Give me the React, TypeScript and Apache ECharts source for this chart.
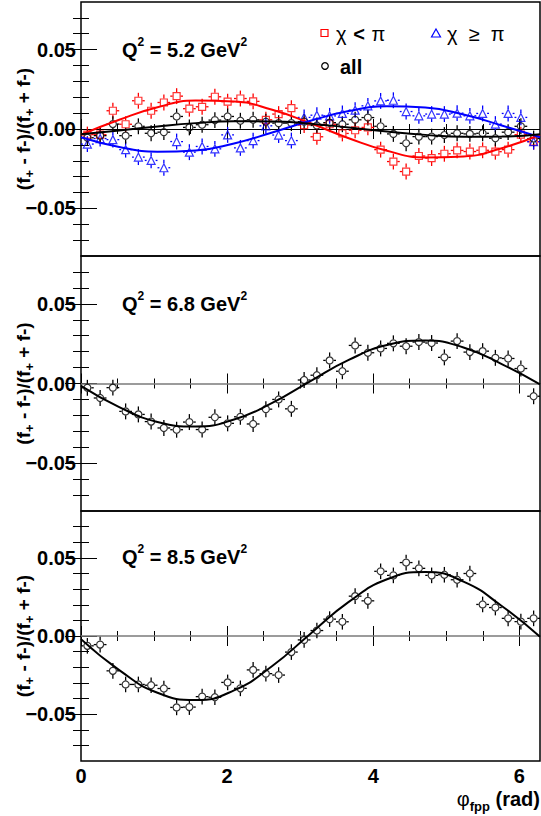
import React, { useEffect, useRef } from 'react';
import * as echarts from 'echarts';

// ---------- data ----------
const TWO_PI = 2 * Math.PI;
const N_BINS = 36;
const BIN_WIDTH = TWO_PI / N_BINS;
const phiBinCenters = Array.from({ length: N_BINS }, (_, i) => (i + 0.5) * BIN_WIDTH);
const fitKnotPhi = Array.from({ length: 13 }, (_, k) => (k * Math.PI) / 6);

const q2Values = ['5.2', '6.8', '8.5'];
const xTickLabels = [0, 2, 4, 6];
const xMinorTicks = [0.5, 1, 1.5, 2.5, 3, 3.5, 4.5, 5, 5.5];
const yTickLabels = [-0.05, 0, 0.05];
const yMinorTicks = [-0.07, -0.06, -0.04, -0.03, -0.02, -0.01, 0.01, 0.02, 0.03, 0.04, 0.06, 0.07];
const ERR_Y = 0.005;

// Q^2 = 5.2 GeV^2
const asymChiLow52 = [
  -0.0035, -0.0036, 0.0115, 0.003, 0.0178, 0.0115, 0.0167, 0.0207, 0.0128, 0.014, 0.0203, 0.0172,
  0.0192, 0.0174, 0.0058, 0.0094, 0.0131, 0.0025, -0.0049, 0.003, -0.0028, -0.0008, 0.001, -0.013,
  -0.0205, -0.0268, -0.017, -0.0183, -0.0156, -0.0135, -0.0142, -0.0134, -0.0143, -0.013, -0.0036, -0.008,
];
const asymChiHigh52 = [
  -0.0095, -0.006, -0.0067, -0.013, -0.0177, -0.0198, -0.0244, -0.0079, -0.0146, -0.011, -0.0125, -0.0037,
  -0.0119, -0.0073, 0.002, -0.0038, -0.0073, 0.0073, 0.0087, 0.0083, 0.0098, 0.0119, 0.0146, 0.0177,
  0.0181, 0.011, 0.0083, 0.0094, 0.0094, 0.01, 0.0083, 0.0098, 0.0031, 0.0098, 0.0073, -0.008,
];
const asymAll52 = [
  -0.0055, -0.0042, 0.0031, -0.0042, 0.0017, -0.0027, -0.002, 0.0079, 0.001, 0.0027, 0.0056, 0.0079,
  0.0052, 0.0058, 0.0046, 0.0037, 0.0037, 0.0046, 0.0022, 0.004, 0.003, 0.0058, 0.0072, 0.0017,
  -0.0031, -0.009, -0.0048, -0.0048, -0.0038, -0.0027, -0.0031, -0.0027, -0.0058, -0.002, 0.0017, -0.006,
];
// Q^2 = 6.8 GeV^2
const asymAll68 = [
  -0.0027, -0.0091, -0.0026, -0.0175, -0.0194, -0.0239, -0.0279, -0.029, -0.0242, -0.0289, -0.0212, -0.025,
  -0.0209, -0.0254, -0.0161, -0.01, -0.0159, 0.0022, 0.0052, 0.0145, 0.0077, 0.0239, 0.0193, 0.022,
  0.0252, 0.0234, 0.026, 0.0254, 0.0164, 0.0266, 0.0197, 0.0203, 0.0161, 0.0157, 0.0094, -0.008,
];
// Q^2 = 8.5 GeV^2
const asymAll85 = [
  -0.0063, -0.0055, -0.0223, -0.031, -0.031, -0.0315, -0.0336, -0.0457, -0.0455, -0.0388, -0.0392, -0.0297,
  -0.0335, -0.0217, -0.0241, -0.025, -0.0103, -0.0025, 0.0035, 0.0108, 0.0091, 0.0255, 0.0225, 0.0414,
  0.0388, 0.047, 0.0433, 0.0388, 0.0392, 0.036, 0.04, 0.0202, 0.0182, 0.0113, 0.0092, 0.0113,
];

// fitted curves read at phi = k*pi/6, k = 0..12
const fitChiLow52 = [-0.0036, 0.0058, 0.0137, 0.0179, 0.0173, 0.0121, 0.0036, -0.0058, -0.0137, -0.0179, -0.0173, -0.0121, -0.0036];
const fitChiHigh52 = [-0.0052, -0.0113, -0.0143, -0.0135, -0.0091, -0.0022, 0.0052, 0.0113, 0.0143, 0.0135, 0.0091, 0.0022, -0.0052];
const fitAll52 = [-0.0033, -0.001, 0.0016, 0.0037, 0.0049, 0.0048, 0.0033, 0.001, -0.0016, -0.0037, -0.0049, -0.0048, -0.0033];
const fitAll68 = [-0.0015, -0.0148, -0.0241, -0.027, -0.0226, -0.0122, 0.0015, 0.0148, 0.0241, 0.027, 0.0226, 0.0122, -0.0005];
const fitAll85 = [-0.002, -0.0218, -0.0363, -0.041, -0.0348, -0.0192, 0.0015, 0.0218, 0.0363, 0.041, 0.0348, 0.0192, -0.0005];

// ---------- style ----------
const FONT = '"Liberation Sans", Arial, Helvetica, sans-serif';
const RED = '#ff0000';
const BLUE = '#0000ff';
const BLACK = '#000000';
const GRID_LEFT = 81;
const GRID_WIDTH = 459;
const panelBoxes = [
  { top: 2, height: 254, titleY: 50 },
  { top: 256, height: 255, titleY: 304 },
  { top: 511, height: 250, titleY: 557 },
];

type DataSet = { name: string; values: number[]; color: string; symbol: string; size: number; gap: number };
type FitSet = { name: string; values: number[]; color: string };

const panelData: { sets: DataSet[]; fits: FitSet[]; zeroColor: string; zeroWidth: number }[] = [
  {
    sets: [
      { name: 'χ < π', values: asymChiLow52, color: RED, symbol: 'rect', size: 7, gap: 4 },
      { name: 'χ ≥ π', values: asymChiHigh52, color: BLUE, symbol: 'triangle', size: 8, gap: 4.5 },
      { name: 'all', values: asymAll52, color: BLACK, symbol: 'circle', size: 7, gap: 4 },
    ],
    fits: [
      { name: 'fit χ < π', values: fitChiLow52, color: RED },
      { name: 'fit χ ≥ π', values: fitChiHigh52, color: BLUE },
      { name: 'fit all', values: fitAll52, color: BLACK },
    ],
    zeroColor: '#000',
    zeroWidth: 1,
  },
  {
    sets: [{ name: 'all 6.8', values: asymAll68, color: BLACK, symbol: 'circle', size: 7, gap: 4 }],
    fits: [{ name: 'fit 6.8', values: fitAll68, color: BLACK }],
    zeroColor: '#7a7a7a',
    zeroWidth: 1.5,
  },
  {
    sets: [{ name: 'all 8.5', values: asymAll85, color: BLACK, symbol: 'circle', size: 7, gap: 4 }],
    fits: [{ name: 'fit 8.5', values: fitAll85, color: BLACK }],
    zeroColor: '#7a7a7a',
    zeroWidth: 1.5,
  },
];

function errorBarRenderer(color: string, gap: number) {
  return (_params: any, api: any) => {
    const x = api.value(0);
    const y = api.value(1);
    const c = api.coord([x, y]);
    const top = api.coord([x, y + ERR_Y])[1];
    const bot = api.coord([x, y - ERR_Y])[1];
    const left = api.coord([x - BIN_WIDTH / 2, y])[0];
    const right = api.coord([x + BIN_WIDTH / 2, y])[0];
    const style = { stroke: color, lineWidth: 1.3 };
    const children: any[] = [];
    if (c[1] - gap > top) children.push({ type: 'line', shape: { x1: c[0], y1: top, x2: c[0], y2: c[1] - gap }, style });
    if (c[1] + gap < bot) children.push({ type: 'line', shape: { x1: c[0], y1: c[1] + gap, x2: c[0], y2: bot }, style });
    children.push({ type: 'line', shape: { x1: left, y1: c[1], x2: c[0] - gap, y2: c[1] }, style });
    children.push({ type: 'line', shape: { x1: c[0] + gap, y1: c[1], x2: right, y2: c[1] }, style });
    return { type: 'group', children };
  };
}

function yFmt(v: number) {
  if (Math.abs(v) < 1e-9) return '0.00';
  return (v < 0 ? '\u2212' : '') + Math.abs(v).toFixed(2);
}

function buildOption() {
  const grid: any[] = [];
  const xAxis: any[] = [];
  const yAxis: any[] = [];
  const series: any[] = [];
  const graphic: any[] = [];

  panelBoxes.forEach((box, g) => {
    grid.push({
      left: GRID_LEFT,
      width: GRID_WIDTH,
      top: box.top,
      height: box.height,
      containLabel: false,
      outerBoundsMode: 'none',
      show: true,
      borderColor: '#000',
      borderWidth: 1.5,
      backgroundColor: 'transparent',
    });
    const mkX = (position: string, ticks: number[], len: number, labels: boolean) => ({
      type: 'value',
      gridIndex: g,
      min: 0,
      max: TWO_PI,
      position,
      axisLine: { show: false },
      splitLine: { show: false },
      axisTick: { show: true, inside: true, length: len, customValues: ticks, lineStyle: { color: '#000', width: 1 } },
      axisLabel: {
        show: labels,
        customValues: ticks,
        formatter: (v: number) => String(Math.round(v)),
        fontFamily: FONT,
        fontWeight: 'bold',
        fontSize: 20,
        color: '#000',
        margin: 5,
        lineHeight: 20,
      },
    });
    xAxis.push(mkX('bottom', xTickLabels, 10, g === 2));
    xAxis.push(mkX('bottom', xMinorTicks, 5, false));
    xAxis.push(mkX('top', xTickLabels, 10, false));
    xAxis.push(mkX('top', xMinorTicks, 5, false));

    const mkY = (position: string, ticks: number[], len: number, labels: boolean, named: boolean) => {
      const ax: any = {
        type: 'value',
        gridIndex: g,
        min: -0.08,
        max: 0.08,
        position,
        axisLine: { show: false },
        splitLine: { show: false },
        axisTick: { show: true, inside: true, length: len, customValues: ticks, lineStyle: { color: '#000', width: 1 } },
        axisLabel: {
          show: labels,
          customValues: ticks,
          formatter: yFmt,
          fontFamily: FONT,
          fontWeight: 'bold',
          fontSize: 20,
          color: '#000',
          margin: 5,
        },
      };
      if (named) {
        ax.name = '{b|(f}{s|+}{b| - f-)/(f}{s|+}{b| + f-)}';
        ax.nameLocation = 'middle';
        ax.nameRotate = 90;
        ax.nameGap = 45;
        ax.nameMoveOverlap = false;
        ax.nameTextStyle = {
          fontFamily: FONT,
          fontWeight: 'bold',
          fontSize: 19,
          color: '#000',
          rich: {
            b: { fontFamily: FONT, fontWeight: 'bold', fontSize: 19, color: '#000', lineHeight: 26 },
            s: { fontFamily: FONT, fontWeight: 'bold', fontSize: 13, color: '#000', lineHeight: 13, verticalAlign: 'bottom' },
          },
        };
      }
      return ax;
    };
    yAxis.push(mkY('left', yTickLabels, 16, true, true));
    yAxis.push(mkY('left', yMinorTicks, 8, false, false));
    yAxis.push(mkY('right', yTickLabels, 16, false, false));
    yAxis.push(mkY('right', yMinorTicks, 8, false, false));

    const pd = panelData[g];
    const axIdx = { xAxisIndex: 4 * g, yAxisIndex: 4 * g };
    pd.sets.forEach((s) => {
      const data = phiBinCenters.map((p, i) => [p, s.values[i]]);
      series.push({
        type: 'custom',
        name: s.name + ' errors',
        ...axIdx,
        data,
        encode: { x: 0, y: 1 },
        renderItem: errorBarRenderer(s.color, s.gap),
        z: 2,
        silent: true,
      });
      series.push({
        type: 'scatter',
        name: s.name,
        ...axIdx,
        data,
        symbol: s.symbol,
        symbolSize: s.size,
        itemStyle: { color: 'rgba(255,255,255,0)', borderColor: s.color, borderWidth: 1.2 },
        z: 3,
        silent: true,
      });
    });
    pd.fits.forEach((f, k) => {
      const line: any = {
        type: 'line',
        name: f.name,
        ...axIdx,
        data: fitKnotPhi.map((p, i) => [p, f.values[i]]),
        smooth: true,
        symbol: 'none',
        showSymbol: false,
        lineStyle: { color: f.color, width: 2 },
        z: 4,
        silent: true,
      };
      if (k === 0) {
        line.markLine = {
          silent: true,
          symbol: 'none',
          label: { show: false },
          lineStyle: { color: pd.zeroColor, width: pd.zeroWidth, type: 'solid' },
          data: [{ yAxis: 0 }],
          z: 1,
        };
      }
      series.push(line);
    });

    graphic.push({
      type: 'text',
      x: 122,
      y: box.titleY,
      style: {
        text: `{q|Q}{p|2}{q| = ${q2Values[g]} GeV}{p|2}`,
        verticalAlign: 'middle',
        rich: {
          q: { fontFamily: FONT, fontWeight: 'bold', fontSize: 20, fill: '#000', lineHeight: 28 },
          p: { fontFamily: FONT, fontWeight: 'bold', fontSize: 12, fill: '#000', lineHeight: 12, verticalAlign: 'top' },
        },
      },
    });
  });

  // legend of the first panel
  graphic.push(
    { type: 'rect', shape: { x: 321, y: 29.5, width: 7, height: 7 }, style: { fill: 'none', stroke: RED, lineWidth: 1.2 } },
    {
      type: 'text',
      x: 336,
      y: 34,
      style: {
        text: '{g|χ}  {o|<}  {g|π}',
        verticalAlign: 'middle',
        rich: {
          g: { fontFamily: FONT, fontSize: 20, fill: '#000' },
          o: { fontFamily: FONT, fontSize: 20, fontWeight: 'bold', fill: '#000' },
        },
      },
    },
    {
      type: 'polygon',
      shape: { points: [[436, 29], [440.5, 37], [431.5, 37]] },
      style: { fill: 'none', stroke: BLUE, lineWidth: 1.2 },
    },
    {
      type: 'text',
      x: 447,
      y: 34,
      style: { text: 'χ  ≥  π', verticalAlign: 'middle', fontFamily: FONT, fontSize: 20, fill: '#000' },
    },
    { type: 'circle', shape: { cx: 325, cy: 66, r: 3.3 }, style: { fill: 'none', stroke: BLACK, lineWidth: 1.2 } },
    {
      type: 'text',
      x: 340,
      y: 67,
      style: { text: 'all', verticalAlign: 'middle', fontFamily: FONT, fontWeight: 'bold', fontSize: 20, fill: '#000' },
    },
    {
      type: 'text',
      x: 540,
      y: 799,
      style: {
        text: '{g|φ}{s|fpp}{b| (rad)}',
        align: 'right',
        verticalAlign: 'middle',
        rich: {
          g: { fontFamily: FONT, fontSize: 20, fill: '#000', lineHeight: 20 },
          s: { fontFamily: FONT, fontWeight: 'bold', fontSize: 13, fill: '#000', lineHeight: 13, verticalAlign: 'bottom', padding: [0, 0, -4, 0] },
          b: { fontFamily: FONT, fontWeight: 'bold', fontSize: 20, fill: '#000', lineHeight: 20 },
        },
      },
    }
  );

  return {
    animation: false,
    backgroundColor: '#ffffff',
    grid,
    xAxis,
    yAxis,
    series,
    graphic,
  };
}

export default function App() {
  const ref = useRef<HTMLDivElement>(null);
  useEffect(() => {
    if (!ref.current) return;
    const chart = echarts.init(ref.current, undefined, { renderer: 'svg', width: 541, height: 816 });
    chart.setOption(buildOption() as any);
    return () => chart.dispose();
  }, []);
  return (
    <div
      ref={ref}
      style={{ position: 'fixed', left: 0, top: 0, width: 541, height: 816, background: '#fff' }}
    />
  );
}
